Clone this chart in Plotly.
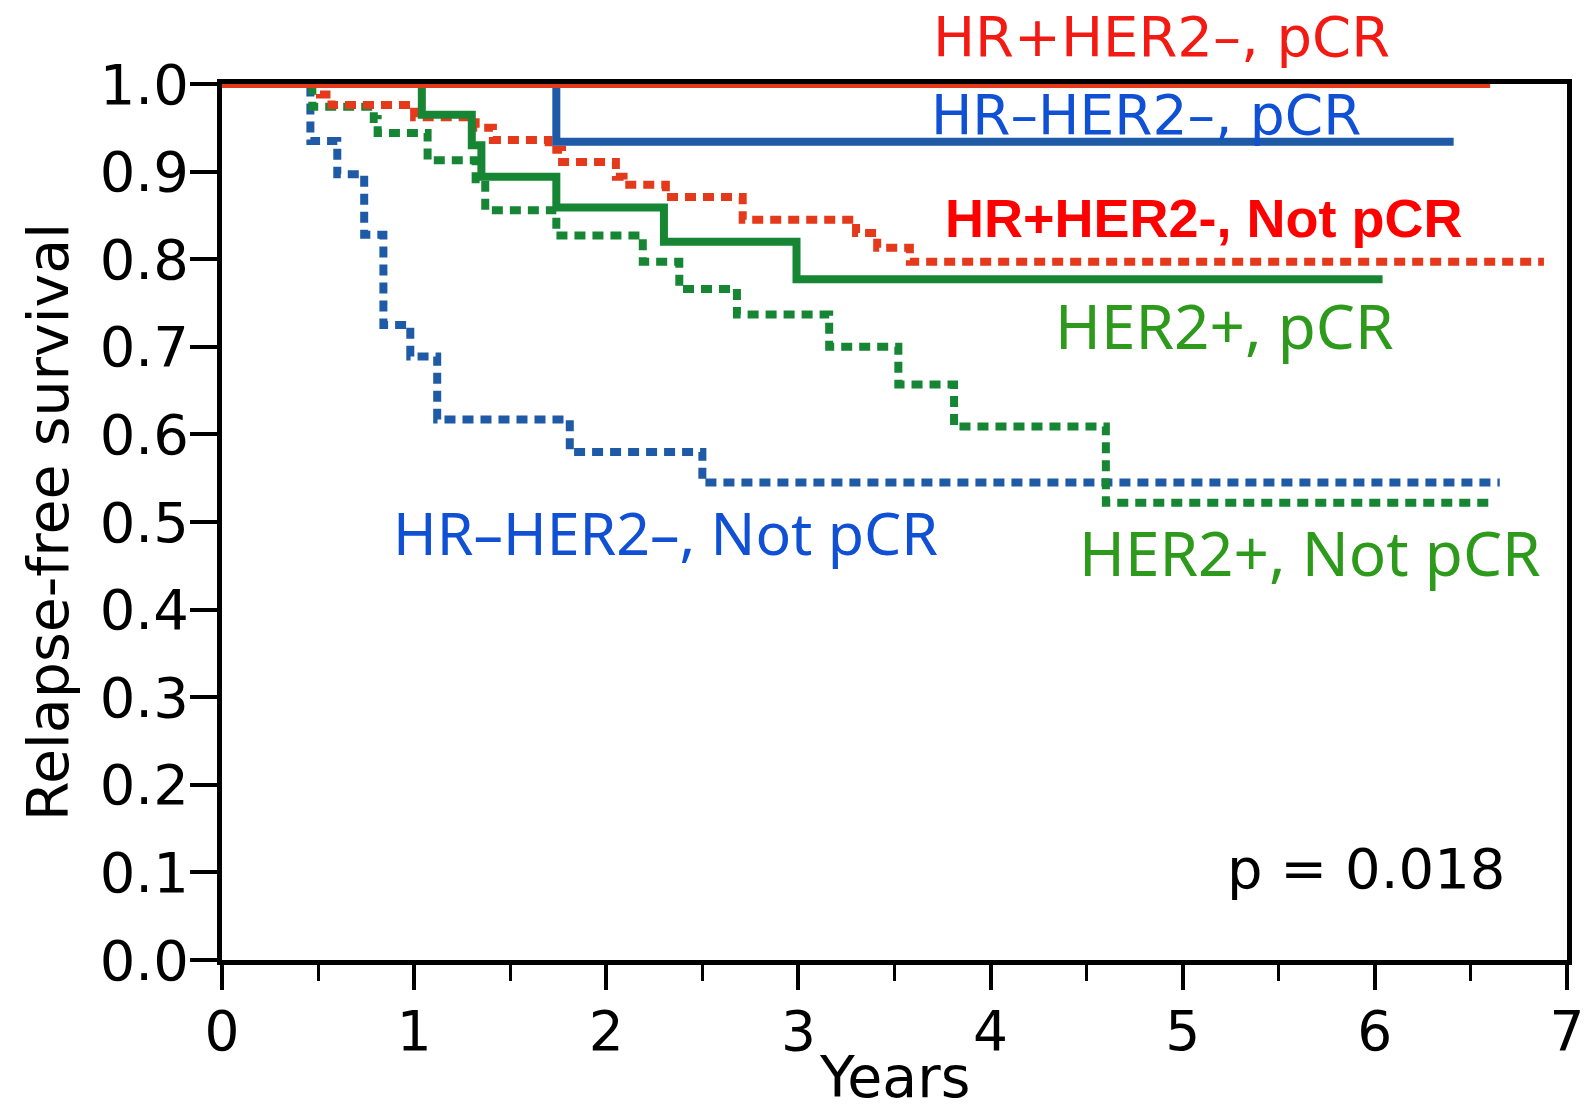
import plotly.graph_objects as go

# ---- data (years, survival) ----
red_solid_times = []
red_solid_surv = []
red_solid_end = 6.60

blue_solid_times = [1.74]
blue_solid_surv = [0.934]
blue_solid_end = 6.41

red_dash_times = [0.51, 0.57, 1.00, 1.32, 1.41, 1.70, 1.77, 2.05, 2.09, 2.31, 2.71, 3.30, 3.41, 3.58]
red_dash_surv = [0.988, 0.976, 0.962, 0.950, 0.936, 0.925, 0.911, 0.894, 0.885, 0.871, 0.845, 0.830, 0.813, 0.797]
red_dash_end = 6.88

green_solid_times = [1.04, 1.30, 1.35, 1.74, 2.30, 2.99]
green_solid_surv = [0.965, 0.930, 0.894, 0.859, 0.820, 0.777]
green_solid_end = 6.04

green_dash_times = [0.47, 0.79, 0.81, 1.07, 1.32, 1.37, 1.74, 2.19, 2.38, 2.68, 3.16, 3.52, 3.81, 4.60]
green_dash_surv = [0.974, 0.960, 0.944, 0.913, 0.885, 0.856, 0.827, 0.797, 0.766, 0.737, 0.700, 0.657, 0.609, 0.522]
green_dash_end = 6.60

blue_dash_times = [0.46, 0.60, 0.74, 0.84, 0.98, 1.12, 1.81, 2.50]
blue_dash_surv = [0.935, 0.897, 0.828, 0.725, 0.689, 0.617, 0.580, 0.545]
blue_dash_end = 6.65

x_ticks = [0, 1, 2, 3, 4, 5, 6, 7]
y_ticks = [0.0, 0.1, 0.2, 0.3, 0.4, 0.5, 0.6, 0.7, 0.8, 0.9, 1.0]

RED = "#E4391B"
BLUE = "#1F5AA6"
GREEN = "#168534"

W, H = 1585, 1113
ML, MR, MT, MB = 222, 18, 84, 153
PH = H - MT - MB


def km(times, surv, end):
    xs = [0.0] + list(times) + [end]
    last = surv[-1] if surv else 1.0
    ys = [1.0] + list(surv) + [last]
    return xs, ys


fig = go.Figure()
DASH = "11px,7px"
curves = [
    (blue_dash_times, blue_dash_surv, blue_dash_end, BLUE, DASH),
    (green_dash_times, green_dash_surv, green_dash_end, GREEN, DASH),
    (red_dash_times, red_dash_surv, red_dash_end, RED, DASH),
    (green_solid_times, green_solid_surv, green_solid_end, GREEN, "solid"),
    (blue_solid_times, blue_solid_surv, blue_solid_end, BLUE, "solid"),
    (red_solid_times, red_solid_surv, red_solid_end, RED, "solid"),
]
for t, s, e, c, d in curves:
    xs, ys = km(t, s, e)
    fig.add_trace(go.Scatter(x=xs, y=ys, mode="lines",
                             line=dict(color=c, width=8, dash=d, shape="hv"),
                             showlegend=False, hoverinfo="skip"))

LBL = "Noto Sans"
DV = "DejaVu Sans"
ann = [
    ("HR\u2013HER2\u2013, pCR", 4.81, 0.965, "#1050D4", 55, DV),
    ("<b>HR+HER2-, Not pCR</b>", 5.11, 0.847, "#FF0000", 54, "Liberation Sans"),
    ("HER2+, pCR", 5.22, 0.725, "#2E9A1C", 62, LBL),
    ("HR\u2013HER2\u2013, Not pCR", 2.31, 0.489, "#1050D4", 59, LBL),
    ("HER2+, Not pCR", 5.66, 0.466, "#2E9A1C", 62, LBL),
    ("p = 0.018", 5.955, 0.104, "#000000", 56, DV),
]
for txt, x, y, col, sz, fam in ann:
    fig.add_annotation(x=x, y=y, xref="x", yref="paper", text=txt, showarrow=False,
                       xanchor="center", yanchor="middle",
                       font=dict(family=fam, size=sz, color=col))

# top label: anchored by its top edge, just inside the page
fig.add_annotation(x=4.89, y=1 + (MT - 2) / PH, xref="x", yref="paper",
                   text="HR+HER2\u2013, pCR", showarrow=False,
                   xanchor="center", yanchor="top",
                   font=dict(family=DV, size=56, color="#F21A12"))
# x-axis title: anchored at the bottom edge
fig.add_annotation(x=3.5, y=-(MB - 1) / PH, xref="x", yref="paper",
                   text="Years", showarrow=False,
                   xanchor="center", yanchor="bottom",
                   font=dict(family=DV, size=57, color="black"))

fig.update_layout(
    width=W, height=H,
    margin=dict(l=ML, r=MR, t=MT, b=MB),
    paper_bgcolor="white", plot_bgcolor="white",
    font=dict(family=DV, color="black"),
)
fig.update_xaxes(
    range=[0, 7], tickvals=x_ticks, ticktext=[str(v) for v in x_ticks],
    showgrid=False, zeroline=False, showline=True, linecolor="black", linewidth=5,
    mirror=True, ticks="outside", ticklen=25, tickwidth=4, tickcolor="black",
    tickfont=dict(family=DV, size=55, color="black"), ticklabelstandoff=-6,
    minor=dict(dtick=0.5, ticks="outside", ticklen=16, tickwidth=3, tickcolor="black"),
    layer="below traces", automargin=False,
)
fig.update_yaxes(
    range=[0, 1], tickvals=y_ticks, ticktext=[f"{v:.1f}" for v in y_ticks],
    showgrid=False, zeroline=False, showline=True, linecolor="black", linewidth=5,
    mirror=True, ticks="outside", ticklen=27, tickwidth=4, tickcolor="black",
    tickfont=dict(family=DV, size=56, color="black"), ticklabelstandoff=-10,
    title=dict(text="Relapse-free survival", font=dict(family=DV, size=57, color="black"), standoff=14),
    layer="below traces", automargin=False,
)

fig.write_html("out.html", config={"displayModeBar": False},
               post_script="document.body.style.margin='0px';document.body.style.overflow='hidden';")
